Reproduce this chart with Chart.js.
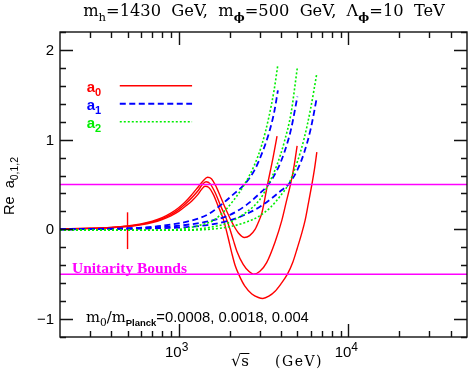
<!DOCTYPE html>
<html>
<head>
<meta charset="utf-8">
<script src="https://cdn.jsdelivr.net/npm/chart.js@4.4.0/dist/chart.umd.min.js"></script>
<style>
  html,body{margin:0;padding:0;background:#fff;}
  #wrap{width:471px;height:382px;}
</style>
</head>
<body>
<div id="wrap"><canvas id="c" width="471" height="382"></canvas></div>
<script>
// sqrt(s) in GeV -> Re a_J
// a0, three values of m0/mPlanck
const sqrtsA0_1 = [200,300,400,500,600,700,800,900,1000,1100,1200,1300,1400,1480,1560,1650,1760,1880,2000,2100,2250,2440,2620,2820,2950,3100,3340,3600,3800];
const reA0_1    = [0.005,0.012,0.022,0.037,0.06,0.09,0.13,0.18,0.24,0.31,0.39,0.47,0.545,0.58,0.565,0.49,0.37,0.24,0.13,0.05,-0.04,-0.09,-0.07,0.0,0.08,0.19,0.50,0.80,1.04];
const sqrtsA0_2 = [200,300,400,500,600,700,800,900,1000,1100,1200,1300,1380,1450,1530,1650,1760,1850,1927,2000,2100,2200,2400,2600,2760,3000,3300,3700,4055,4300,4585,4800,4990];
const reA0_2    = [0.004,0.011,0.02,0.034,0.055,0.083,0.12,0.165,0.22,0.285,0.355,0.43,0.50,0.53,0.51,0.40,0.27,0.18,0.10,0.01,-0.12,-0.24,-0.39,-0.47,-0.50,-0.47,-0.37,-0.14,0.10,0.30,0.52,0.72,0.93];
const sqrtsA0_3 = [200,300,400,500,600,700,800,900,1000,1100,1200,1300,1370,1430,1500,1600,1700,1842,1950,2060,2150,2270,2450,2700,2950,3135,3400,3700,4000,4375,4700,5000,5300,5560,5800,6095,6300,6520];
const reA0_3    = [0.004,0.01,0.018,0.031,0.05,0.076,0.11,0.15,0.20,0.26,0.32,0.39,0.45,0.48,0.47,0.39,0.27,0.10,-0.08,-0.27,-0.40,-0.51,-0.63,-0.72,-0.76,-0.77,-0.745,-0.69,-0.61,-0.50,-0.37,-0.21,-0.05,0.10,0.28,0.50,0.66,0.86];
// a1
const sqrtsA1_1 = [200,500,800,1200,1500,1850,2100,2440,2800,3100,3400,3650,3845];
const reA1_1    = [0.0,0.01,0.04,0.10,0.17,0.30,0.39,0.50,0.66,0.85,1.07,1.30,1.55];
const sqrtsA1_2 = [200,700,1000,1500,2000,2500,3000,3380,3800,4200,4600,5010];
const reA1_2    = [0.0,0.02,0.04,0.09,0.16,0.27,0.40,0.50,0.66,0.86,1.12,1.48];
const sqrtsA1_3 = [200,1000,1500,2000,2500,3000,3500,4000,4430,5000,5500,6000,6520];
const reA1_3    = [0.0,0.02,0.05,0.10,0.17,0.25,0.34,0.43,0.50,0.66,0.86,1.12,1.47];
// a2
const sqrtsA2_1 = [200,400,700,1000,1300,1600,1850,2100,2440,2800,3100,3400,3650,3845];
const reA2_1    = [-0.005,-0.01,-0.01,0.0,0.04,0.10,0.20,0.32,0.50,0.72,0.95,1.25,1.55,1.84];
const sqrtsA2_2 = [200,700,1000,1500,2000,2500,3000,3380,3800,4200,4600,5010];
const reA2_2    = [-0.005,-0.01,-0.01,0.02,0.08,0.19,0.33,0.50,0.72,0.98,1.30,1.81];
const sqrtsA2_3 = [200,1000,1500,2000,2500,3000,3500,4000,4430,5000,5500,6000,6520];
const reA2_3    = [-0.005,-0.01,0.0,0.03,0.08,0.15,0.25,0.38,0.50,0.75,1.02,1.35,1.74];
// phi pole marker at m_phi = 500 GeV
const poleX = [500,500];
const poleY = [-0.22,0.19];
// unitarity bounds
const boundX = [200,50000];
const boundHi = [0.5,0.5];
const boundLo = [-0.5,-0.5];

// axes
const xMin = 200, xMax = 50000, yMin = -1.2, yMax = 2.2;
const xMajor = [1000,10000];
const xMajorExp = ['3','4'];
const xMinor = [300,400,500,600,700,800,900,2000,3000,4000,5000,6000,7000,8000,9000,20000,30000,40000];
const yMajor = [-1,0,1,2];
const yMajorLabels = ['\u22121','0','1','2'];
const yMinor = [-1.2,-0.8,-0.6,-0.4,-0.2,0.2,0.4,0.6,0.8,1.2,1.4,1.6,1.8,2.2];
// legend
const legendNames = ['0','1','2'];
const legendY = [1.6,1.4,1.2];
const legendX = [450,1200];

const RED = '#ff0000', BLUE = '#0000ff', GREEN = '#00ee00', MAG = '#ff00ff';
const SERIF = '"DejaVu Serif", serif';
const TIMES = '"Liberation Serif", serif';
const SANS = '"Liberation Sans", Arial, sans-serif';

function pts(xs, ys){ return xs.map((x,i)=>({x:x, y:ys[i]})); }
function ds(xs, ys, color, width, dash){
  return { data: pts(xs,ys), borderColor: color, borderWidth: width, borderDash: dash||[],
           pointRadius: 0, fill: false, cubicInterpolationMode: 'monotone' };
}

// draw a run of [text, size, family, dy, weight] pieces
function rich(ctx, parts, x, y, align, target){
  let k = 1;
  const f = (p)=> (p[4]||'normal')+' '+(p[1]*k)+'px '+p[2];
  const width = ()=>{ let w=0; parts.forEach(p=>{ ctx.font=f(p); w+=ctx.measureText(p[0]).width; }); return w; };
  let w = width();
  if(target){ k = target/w; w = width(); }
  let cx = align==='center' ? x-w/2 : align==='right' ? x-w : x;
  const out = [];
  parts.forEach(p=>{ ctx.font=f(p); const pw=ctx.measureText(p[0]).width; ctx.fillText(p[0], cx, y+(p[3]||0)*k); out.push([cx,pw]); cx+=pw; });
  return out;
}

const frame = {
  id: 'frame',
  afterDatasetsDraw(chart){
    const ctx = chart.ctx, a = chart.chartArea;
    const xs = chart.scales.x, ys = chart.scales.y;
    ctx.save();
    ctx.strokeStyle = '#111'; ctx.lineWidth = 1.4;
    ctx.strokeRect(a.left, a.top, a.right-a.left, a.bottom-a.top);
    ctx.beginPath();
    const tickX = (v,len)=>{ const p=Math.round(xs.getPixelForValue(v))+0.5; ctx.moveTo(p,a.bottom); ctx.lineTo(p,a.bottom-len); ctx.moveTo(p,a.top); ctx.lineTo(p,a.top+len); };
    const tickY = (v,len)=>{ const p=Math.round(ys.getPixelForValue(v))+0.5; ctx.moveTo(a.left,p); ctx.lineTo(a.left+len,p); ctx.moveTo(a.right,p); ctx.lineTo(a.right-len,p); };
    xMajor.forEach(v=>tickX(v,13)); xMinor.forEach(v=>tickX(v,6));
    yMajor.forEach(v=>tickY(v,13)); yMinor.forEach(v=>tickY(v,6));
    ctx.stroke();

    // tick labels
    ctx.fillStyle = '#000'; ctx.textBaseline = 'alphabetic';
    xMajor.forEach((v,i)=>{
      rich(ctx, [['10',15,SANS,0],[xMajorExp[i],12,SANS,-6]], xs.getPixelForValue(v)-2, 357, 'center');
    });
    ctx.textAlign = 'left';
    yMajor.forEach((v,i)=>{
      rich(ctx, [[yMajorLabels[i],15,SANS,0]], 54, ys.getPixelForValue(v)+5, 'right');
    });

    // title
    const sub = 10;
    rich(ctx, [['m',14,SERIF,0],['h',sub,SERIF,4],['=1430  GeV,  m',14,SERIF,0],['\u03d5',sub,SERIF,4,'bold'],
               ['=500  GeV,  \u039b',14,SERIF,0],['\u03d5',sub,SERIF,4,'bold'],['=10  TeV',14,SERIF,0]], 264, 16, 'center', 362);

    // axis titles
    const r = rich(ctx, [['\u221a',16,SERIF,0],['s',15,SERIF,0]], 231, 366, 'left');
    ctx.letterSpacing = '1.5px';
    rich(ctx, [['(GeV)',14,SERIF,0]], 275, 366, 'left');
    ctx.letterSpacing = '0px';
    ctx.lineWidth = 1; ctx.strokeStyle = '#000';
    ctx.beginPath(); ctx.moveTo(r[1][0]-0.5, 353.5); ctx.lineTo(r[1][0]+r[1][1]+0.5, 353.5); ctx.stroke();
    ctx.save(); ctx.translate(14, 186); ctx.rotate(-Math.PI/2);
    rich(ctx, [['Re  a',14,SANS,0],['0,1,2',10,SANS,4]], 0, 0, 'center', 58);
    ctx.restore();

    // legend
    const cols = [RED,BLUE,GREEN], dashes = [[],[6,3.5],[2,2]], lw = [1.5,1.8,1.6];
    legendY.forEach((v,i)=>{
      const py = ys.getPixelForValue(v);
      const x0 = xs.getPixelForValue(legendX[0]), x1 = xs.getPixelForValue(legendX[1]);
      ctx.strokeStyle = cols[i]; ctx.lineWidth = lw[i]; ctx.setLineDash(dashes[i]);
      ctx.beginPath(); ctx.moveTo(x0,py); ctx.lineTo(x1,py); ctx.stroke();
      ctx.setLineDash([]);
      ctx.fillStyle = cols[i];
      rich(ctx, [['a',15,SANS,0,'bold'],[legendNames[i],11,SANS,4,'bold']], x0-33, py+6, 'left');
    });

    // annotations
    ctx.fillStyle = MAG;
    rich(ctx, [['Unitarity Bounds',15,TIMES,0,'bold']], 72, 273, 'left', 115);
    ctx.fillStyle = '#000';
    rich(ctx, [['m',14,SERIF,0],['0',10,SERIF,4],['/m',14,SERIF,0],['Planck',9,SANS,4,'bold'],['=0.0008, 0.0018, 0.004',14,SANS,0]], 86, 322, 'left', 223);
    ctx.restore();
  }
};

new Chart(document.getElementById('c').getContext('2d'), {
  type: 'line',
  data: { datasets: [
    ds(boundX, boundHi, MAG, 1.5),
    ds(boundX, boundLo, MAG, 1.5),
    ds(sqrtsA2_1, reA2_1, GREEN, 1.6, [2,2]),
    ds(sqrtsA2_2, reA2_2, GREEN, 1.6, [2,2]),
    ds(sqrtsA2_3, reA2_3, GREEN, 1.6, [2,2]),
    ds(sqrtsA1_1, reA1_1, BLUE, 1.8, [6,3.5]),
    ds(sqrtsA1_2, reA1_2, BLUE, 1.8, [6,3.5]),
    ds(sqrtsA1_3, reA1_3, BLUE, 1.8, [6,3.5]),
    ds(sqrtsA0_1, reA0_1, RED, 1.4),
    ds(sqrtsA0_2, reA0_2, RED, 1.4),
    ds(sqrtsA0_3, reA0_3, RED, 1.4),
    ds(poleX, poleY, RED, 1.4)
  ]},
  options: {
    responsive: false, animation: false,
    layout: { padding: { left: 60, right: 4, top: 32, bottom: 45 } },
    scales: {
      x: { type: 'logarithmic', min: xMin, max: xMax, display: false },
      y: { type: 'linear', min: yMin, max: yMax, display: false }
    },
    plugins: { legend: { display: false }, tooltip: { enabled: false } }
  },
  plugins: [frame]
});
</script>
</body>
</html>
